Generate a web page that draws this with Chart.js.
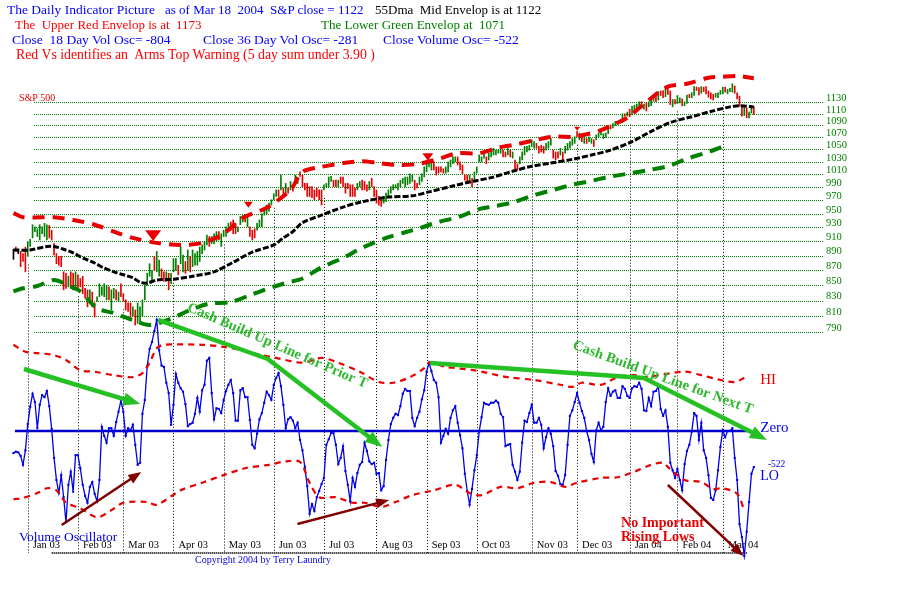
<!DOCTYPE html>
<html><head><meta charset="utf-8">
<script src="https://cdn.jsdelivr.net/npm/chart.js@4.4.1/dist/chart.umd.min.js"></script>
<style>
html,body{margin:0;padding:0;background:#fff}
#wrap{position:relative;width:900px;height:600px;overflow:hidden;background:#fff}
#c{position:absolute;left:0;top:0}
.t{position:absolute;white-space:pre;font-family:"Liberation Serif","Times New Roman",serif;line-height:1}
</style></head><body>
<div id="wrap">
<canvas id="c" width="900" height="600"></canvas>
<div class="t" style="left:7px;top:2.7px;font-size:13.5px;color:#0000ff">The Daily Indicator Picture</div>
<div class="t" style="left:165px;top:3.1px;font-size:13px;color:#0000ff">as of Mar 18  2004  S&amp;P close = 1122</div>
<div class="t" style="left:375px;top:3.1px;font-size:13px;color:#000">55Dma  Mid Envelop is at 1122</div>
<div class="t" style="left:15px;top:18.1px;font-size:13px;color:#ff0000">The  Upper Red Envelop is at  1173</div>
<div class="t" style="left:321px;top:18.1px;font-size:13px;color:#008000">The Lower Green Envelop at  1071</div>
<div class="t" style="left:12px;top:32.7px;font-size:13.5px;color:#0000ff">Close  18 Day Vol Osc= -804</div>
<div class="t" style="left:203px;top:32.7px;font-size:13.5px;color:#0000ff">Close 36 Day Vol Osc= -281</div>
<div class="t" style="left:383px;top:32.7px;font-size:13.5px;color:#0000ff">Close Volume Osc= -522</div>
<div class="t" style="left:16px;top:47.5px;font-size:13.8px;color:#ff0000">Red Vs identifies an  Arms Top Warning (5 day sum under 3.90 )</div>
</div>
<script>
// ---------- DATA (trading-day index 0 = Dec 23 2002 ... 310 = Mar 18 2004) ----------
const priceTicks = [790,810,830,850,870,890,910,930,950,970,990,1010,1030,1050,1070,1090,1110,1130];
const monthLabels = ['Jan 03','Feb 03','Mar 03','Apr 03','May 03','Jun 03','Jul 03','Aug 03','Sep 03','Oct 03','Nov 03','Dec 03','Jan 04','Feb 04','Mar 04'];
const monthStart = [6,27,46,67,88,109,130,152,173,194,217,236,258,278,297];

// S&P 500 daily high / low
const priceHigh = [
899,902,898,896,893,902,910,913,934,931,928,934,931,936,934,933,926,907,893,889,889,868,866,862,868,866,868,864,859,862,846,844,844,
841,827,835,852,848,852,850,848,844,846,844,841,852,839,831,827,827,822,818,827,822,831,850,866,879,870,889,896,884,872,868,868,866,
866,886,886,877,902,891,882,898,889,898,893,896,902,905,910,919,917,917,921,924,924,921,926,931,936,938,941,936,931,946,948,948,946,
931,926,928,936,941,950,958,963,966,971,980,986,986,1009,989,996,989,999,991,1009,1004,1014,
1009,996,996,991,991,986,989,986,986,
994,996,1006,1007,1001,1001,1001,1006,1006,996,
996,994,994,989,996,999,1001,999,994,999,
1004,991,986,976,971,976,981,986,991,994,
994,996,1001,1004,1006,1006,1011,1009,1001,996,
1006,1011,1022,1030,1033,1030,1030,1022,1022,
1022,1019,1022,1030,1033,1038,1038,1038,1030,1025,
1009,1009,1009,1004,1014,1022,1041,1038,1044,1038,
1044,1046,1052,1049,1049,1052,1049,1046,1052,1049,
1046,1033,1027,1038,1046,1055,1055,1057,1066,1063,
1060,1055,1057,1055,1060,1063,1068,1049,1046,
1046,1052,1046,1055,1060,1063,1068,1071,1080,1077,
1071,1071,1068,1071,1068,1066,1074,1077,1082,
1076,1077,1090,1091,1093,1097,1096,1098,1110,1110,
1113,1118,1123,1125,1127,1131,1131,1127,1129,1131,
1136,1140,1142,1149,1150,1151,1156,1156,1150,1135,
1135,1142,1138,1136,1131,1143,1144,1147,1158,1157,
1156,1158,1157,1158,1150,1147,1144,1146,1147,1151,
1157,1157,1153,1155,1163,1159,1147,1141,1125,1121,
1120,1113,1124,1122];
const priceLow = [
885,896,893,875,882,868,889,903,915,924,917,912,921,917,912,915,912,891,879,877,875,844,846,848,848,844,844,846,848,839,833,822,829,
822,809,829,835,837,835,831,831,818,833,831,829,835,829,818,816,805,810,799,801,801,810,831,850,862,857,870,868,862,857,855,855,844,
852,868,870,864,879,868,866,870,868,875,877,877,882,893,898,905,903,907,907,910,912,903,917,917,926,926,921,921,924,934,938,938,931,
917,912,915,926,931,931,948,950,954,963,971,976,976,986,975,981,981,986,984,996,996,1007,
991,986,976,976,974,971,976,971,963,
986,991,991,999,991,991,991,996,991,981,
988,976,976,976,986,991,986,986,984,986,
991,976,966,963,961,966,968,976,981,986,
989,986,991,996,991,994,996,999,986,989,
994,999,1006,1014,1022,1017,1017,1009,1012,
1014,1012,1012,1014,1022,1027,1030,1025,1017,1011,
1001,996,999,991,999,1012,1030,1030,1036,1027,
1033,1038,1041,1041,1044,1044,1038,1038,1041,1038,
1036,1019,1017,1027,1033,1041,1046,1049,1055,1052,
1052,1044,1046,1044,1049,1052,1057,1036,1033,
1036,1041,1033,1044,1049,1052,1057,1060,1071,1066,
1063,1060,1060,1063,1060,1055,1066,1071,1074,
1068,1070,1076,1084,1086,1090,1092,1094,1095,1106,
1106,1105,1108,1117,1116,1124,1120,1118,1115,1122,
1124,1132,1131,1134,1142,1138,1140,1144,1126,1122,
1127,1128,1129,1124,1124,1128,1138,1138,1142,1151,
1143,1146,1149,1145,1139,1136,1134,1139,1138,1144,
1145,1148,1145,1149,1148,1146,1136,1123,1106,1107,
1103,1103,1111,1109];
// bar direction per day: g = up day, r = down day, k = neutral
const priceDir = (
'krkrrrgggggggggrrrrrrrrgrrgrrrrrg' +
'rrgggggrggrgrrrrrgrgggggggrggrrgr' +
'gggrggrgrgggggggrgggrggggrrrgggrg' +
'rrrgggggggggrgrgrgrggr' +
'rrrrrrrrrggggrrgrrrrrrrggrrrgrrrrrggggg' +
'ggggggggrrggggggrrrrrgggggrrrrrgrgggggr' +
'ggggggrrgrgrrgggggggrrrrgggrrrgrgggggrgrgrggrggg' +
'gggrggrggrgrggggrgrgggrgrrgrrgrggrggrggrrgrrrrrgggg' +
'rgggrrrrgrggr').split('');

// 55-day moving average (mid envelope)
const maDay = [0,7,14,17,21,25,29,34,38,42,46,50,53,56,60,67,75,84,92,100,109,113,117,121,129,138,146,157,167,174,184,192,200,209,217,225,234,242,250,259,267,275,284,292,300,304,310];
const maVal = [898,898,903,903,899,894,887,880,873,868,864,860,854,853,857,858,862,868,881,895,905,915,924,937,948,960,968,975,977,983,992,999,1005,1015,1023,1028,1034,1041,1049,1063,1080,1095,1105,1114,1122,1124,1122];
// upper red envelope
const upDay = [0,4,17,25,34,42,50,60,70,79,88,96,106,116,121,129,138,146,153,161,170,179,186,195,203,210,218,226,234,241,246,252,257,266,274,282,291,297,304,310];
const upVal = [951,945,945,941,934,924,915,908,905,908,921,944,959,986,1014,1022,1028,1031,1028,1025,1027,1036,1044,1044,1053,1058,1065,1071,1071,1076,1082,1093,1103,1134,1158,1163,1174,1176,1177,1173];
// lower green envelope
const lowDay = [0,4,10,17,24,28,35,42,50,57,66,74,82,91,99,106,114,121,129,138,146,156,163,170,178,186,195,201,209,218,226,234,242,249,257,266,274,282,291,299];
const lowVal = [842,846,849,857,848,842,820,814,805,799,807,818,826,828,837,845,853,859,874,887,901,915,922,929,938,945,957,961,967,978,986,994,1000,1006,1011,1017,1023,1035,1046,1058];
// Arms top warnings (red Vs): day and price at top of marker
const warnDay = [58.5,98.4,173.5,236];
const warnPrice = [926,968,1044,1088];

// Volume oscillator, daily
const volOsc = [
-320,-300,-310,-360,-490,-280,100,350,540,420,
40,380,520,490,580,360,30,-390,-710,-900,
-640,-960,-1320,-780,-590,-880,-350,-350,-540,-780,
-940,-1040,-810,-740,-910,-1020,-710,60,-70,-170,
40,40,-70,130,280,440,280,-70,40,10,
90,-200,-490,-460,250,450,940,1190,1290,1450,
1610,1170,950,930,700,550,90,380,830,700,
620,570,390,70,100,120,250,480,280,590,
670,1020,1060,550,170,330,320,260,450,580,
670,740,550,150,150,590,620,490,490,160,
-200,-250,-40,170,260,410,570,520,450,670,
770,840,650,380,40,170,200,150,40,120,
-130,-280,-520,-800,-1200,-1060,-1160,-960,-870,-770,
-680,-200,-120,-30,-30,-200,-480,-390,-220,-580,
-780,-1020,-680,-810,-610,-490,-450,-170,-290,-440,
-480,-460,-620,-610,-860,-800,-420,-130,100,190,
250,230,360,540,610,580,580,190,70,190,
280,460,590,860,990,870,740,700,490,-170,
-70,30,-40,190,300,360,120,-60,-250,-620,
-870,-1070,-840,-570,-350,-10,200,410,390,380,
410,410,440,410,250,200,-220,-200,-190,-490,
-590,-710,-590,-170,150,130,260,380,120,120,
190,90,-250,-90,40,-40,-220,-580,-650,-770,
-780,-640,-200,220,300,420,550,410,290,190,
0,-130,-330,-450,10,120,10,60,420,620,
510,570,590,480,480,650,610,510,480,620,
650,640,700,610,300,290,480,360,570,580,
650,320,220,300,60,-460,-570,-680,-550,-710,
-860,-480,-290,-200,-10,260,220,-130,120,-280,
-390,-640,-970,-1000,-860,-570,-230,10,-90,0,
0,40,-390,-710,-1350,-1540,-1810,-1460,-1030,-620,
-522];
// HI / LO oscillator bands
const hiDay = [0,5,10,17,22,28,34,42,50,54,57,60,63,79,88,96,104,110,121,129,136,145,153,159,166,172,174,181,193,207,218,229,234,238,246,253,260,264,281,288,296,302,306];
const hiVal = [1250,1150,1130,1100,1030,880,860,810,780,840,990,1200,1250,1250,1220,1170,1100,1060,990,1060,990,860,710,700,780,910,990,930,880,780,740,670,640,700,670,780,810,780,860,810,740,710,770];
const loDay = [0,4,10,14,18,22,28,35,41,46,56,60,70,79,88,97,107,114,120,124,128,135,142,147,154,160,167,176,185,191,196,204,211,218,225,231,236,246,253,260,267,272,274,281,288,293,297,303,306];
const loVal = [-990,-970,-900,-830,-860,-1040,-1120,-1250,-1150,-1040,-1030,-1070,-860,-750,-640,-540,-490,-440,-450,-750,-960,-960,-1040,-1040,-1100,-1030,-930,-860,-780,-900,-930,-810,-830,-750,-740,-810,-750,-680,-670,-590,-490,-460,-520,-710,-740,-840,-830,-910,-1150];

// annotation arrows (day, oscillator units)
const cashLines = [
  [[4.4,899],[53.1,392]],
  [[60.6,1610],[106.5,1044],[154.4,-232]],
  [[174.4,986],[264,769],[315.5,-130]]
];
const risingLows = [
  [[20.2,-1363],[53.5,-595]],
  [[118.9,-1349],[157.3,-1000]],
  [[274,-783],[305.6,-1812]]
];

// ---------- STYLE ----------
const C_GREEN='#008000', C_RED='#e80000', C_BLUE='#0000e6', C_ARROW='#24c024', C_BROWN='#800000';
const SERIF='"Liberation Serif","Times New Roman",serif';
const warnSizes=[16,9,11,6];

const barColors = priceDir.map(c => c==='g' ? C_GREEN : c==='r' ? C_RED : '#000');
const pts = (xs, ys) => xs.map((d,i)=>({x:d,y:ys[i]}));

function drawArrow(ctx, p, color, w, hl, hw){
  const n=p.length, [xe,ye]=p[n-1], [xp,yp]=p[n-2];
  const ang=Math.atan2(ye-yp, xe-xp), c=Math.cos(ang), s=Math.sin(ang);
  ctx.strokeStyle=color; ctx.lineWidth=w; ctx.lineJoin='round'; ctx.setLineDash([]);
  ctx.beginPath(); ctx.moveTo(p[0][0],p[0][1]);
  for(let i=1;i<n-1;i++) ctx.lineTo(p[i][0],p[i][1]);
  ctx.lineTo(xe-c*hl*0.8, ye-s*hl*0.8); ctx.stroke();
  const hx=xe-c*hl, hy=ye-s*hl;
  ctx.fillStyle=color; ctx.beginPath(); ctx.moveTo(xe,ye);
  ctx.lineTo(hx+s*hw/2, hy-c*hw/2); ctx.lineTo(hx-s*hw/2, hy+c*hw/2); ctx.closePath(); ctx.fill();
}

const decor = {
  id:'decor',
  beforeDatasetsDraw(chart){
    const {ctx, chartArea:a, scales:{x,yP}} = chart;
    const X=d=>x.getPixelForValue(d);
    ctx.save();
    ctx.lineWidth=1; ctx.strokeStyle=C_GREEN; ctx.setLineDash([1,1]);
    const gx0=Math.round(X(8.5));
    priceTicks.forEach(v=>{const y=Math.round(yP.getPixelForValue(v))+0.5; ctx.beginPath(); ctx.moveTo(gx0,y); ctx.lineTo(a.right,y); ctx.stroke();});
    const yBase=a.bottom-7;
    ctx.strokeStyle='#000'; ctx.setLineDash([1,2]);
    monthStart.forEach(d=>{const px=Math.round(X(d))+0.5; const y0=yP.getPixelForValue(priceLow[d])+8;
      ctx.beginPath(); ctx.moveTo(px,y0); ctx.lineTo(px,yBase); ctx.stroke();});
    ctx.lineWidth=2; ctx.setLineDash([1,1]);
    ctx.beginPath(); ctx.moveTo(X(16),yBase); ctx.lineTo(X(307),yBase); ctx.stroke();
    ctx.setLineDash([]);
    ctx.fillStyle='#000'; ctx.font='10.5px '+SERIF; ctx.textAlign='left'; ctx.textBaseline='alphabetic';
    monthLabels.forEach((t,i)=>ctx.fillText(t, X(monthStart[i])+5, a.bottom-12));
    ctx.restore();
  },
  afterDatasetsDraw(chart){
    const {ctx, scales:{x,yP,yO}} = chart;
    const X=d=>x.getPixelForValue(d), YO=v=>yO.getPixelForValue(v);
    ctx.save();
    // Arms top warnings
    ctx.fillStyle=C_RED;
    warnDay.forEach((d,i)=>{const cx=X(d), ty=yP.getPixelForValue(warnPrice[i]), w=warnSizes[i], h=w*0.68;
      ctx.beginPath(); ctx.moveTo(cx-w/2,ty); ctx.lineTo(cx+w/2,ty); ctx.lineTo(cx,ty+h); ctx.closePath(); ctx.fill();});
    // arrows
    cashLines.forEach(l=>drawArrow(ctx, l.map(q=>[X(q[0]),YO(q[1])]), C_ARROW, 4.5, 17, 13));
    risingLows.forEach(l=>drawArrow(ctx, l.map(q=>[X(q[0]),YO(q[1])]), C_BROWN, 2.5, 13, 10));
    // texts
    ctx.textAlign='left'; ctx.textBaseline='alphabetic';
    const txt=(t,d,v,font,col)=>{ctx.font=font; ctx.fillStyle=col; ctx.fillText(t,X(d),YO(v));};
    ctx.font='10px '+SERIF; ctx.fillStyle=C_RED; ctx.fillText('S&P 500', X(2.3), yP.getPixelForValue(1132));
    txt('HI',312.7,680,'15px '+SERIF,C_RED);
    txt('Zero',312.7,-15,'15px '+SERIF,C_BLUE);
    txt('-522',315.9,-522,'9.5px '+SERIF,C_BLUE);
    txt('LO',312.7,-710,'14px '+SERIF,C_BLUE);
    txt('Volume Oscillator',2.3,-1595,'13.5px '+SERIF,C_BLUE);
    txt('Copyright 2004 by Terry Laundry',76,-1914,'10px '+SERIF,C_BLUE);
    txt('No Important',254.4,-1392,'bold 14px '+SERIF,C_RED);
    txt('Rising Lows',254.4,-1595,'bold 14px '+SERIF,C_RED);
    const rot=(t,d,v,deg)=>{ctx.save(); ctx.translate(X(d),YO(v)); ctx.rotate(deg*Math.PI/180);
      ctx.font='bold 14.5px '+SERIF; ctx.fillStyle='#2db82d'; ctx.textBaseline='middle'; ctx.fillText(t,0,0); ctx.restore();};
    rot('Cash Build Up Line for Prior T',73.1,1798,23.5);
    rot('Cash Build Up Line for Next T',234.4,1247,20);
    ctx.restore();
  }
};

new Chart(document.getElementById('c'), {
  type:'line',
  data:{datasets:[
    {type:'bar', label:'S&P 500', xAxisID:'x', yAxisID:'yP', order:4, grouped:false, barThickness:1, borderWidth:0,
     backgroundColor:barColors, data:priceHigh.map((h,i)=>({x:i,y:[priceLow[i],h]}))},
    {label:'55 Dma', yAxisID:'yP', order:1, data:pts(maDay,maVal), borderColor:'#000', borderWidth:3, borderDash:[6,2], pointRadius:0, tension:0.3, fill:false},
    {label:'Upper Envelope', yAxisID:'yP', order:2, data:pts(upDay,upVal), borderColor:C_RED, borderWidth:4, borderDash:[12,8], pointRadius:0, tension:0.3, fill:false},
    {label:'Lower Envelope', yAxisID:'yP', order:3, data:pts(lowDay,lowVal), borderColor:C_GREEN, borderWidth:4, borderDash:[12,8], pointRadius:0, tension:0.3, fill:false},
    {label:'HI', yAxisID:'yO', order:5, data:pts(hiDay,hiVal), borderColor:C_RED, borderWidth:2.2, borderDash:[6,5], pointRadius:0, tension:0.3, fill:false},
    {label:'LO', yAxisID:'yO', order:5, data:pts(loDay,loVal), borderColor:C_RED, borderWidth:2.2, borderDash:[6,5], pointRadius:0, tension:0.3, fill:false},
    {label:'Volume Oscillator', yAxisID:'yO', order:6, data:volOsc.map((v,i)=>({x:i,y:v})), borderColor:C_BLUE, borderWidth:1.3,
     pointStyle:'rect', pointRadius:1.5, pointBorderWidth:0, pointBackgroundColor:C_BLUE, tension:0, fill:false},
    {label:'Zero', yAxisID:'yO', order:7, data:[{x:0.6,y:0},{x:307.3,y:0}], borderColor:'#0000cc', borderWidth:2.5, pointRadius:0, fill:false}
  ]},
  options:{
    responsive:false, animation:false, devicePixelRatio:1,
    layout:{padding:{top:60,bottom:40,left:0,right:0}},
    plugins:{legend:{display:false}, tooltip:{enabled:false}},
    scales:{
      x:{type:'linear', min:-3.958, max:338.958, offset:false, bounds:'data', display:false},
      yP:{type:'logarithmic', position:'right', min:554.3, max:1206.9, bounds:'data',
          grid:{display:false, drawTicks:false}, border:{display:false},
          afterBuildTicks:s=>{s.ticks=priceTicks.map(v=>({value:v}));},
          afterFit:s=>{s.width=77;},
          ticks:{callback:v=>String(v), color:C_GREEN, font:{family:SERIF,size:10.5}, padding:3, labelOffset:-4, autoSkip:false, maxRotation:0}},
      yO:{type:'linear', min:-1870.5, max:5379.5, bounds:'data', display:false}
    }
  },
  plugins:[decor]
});
</script>
</body></html>
